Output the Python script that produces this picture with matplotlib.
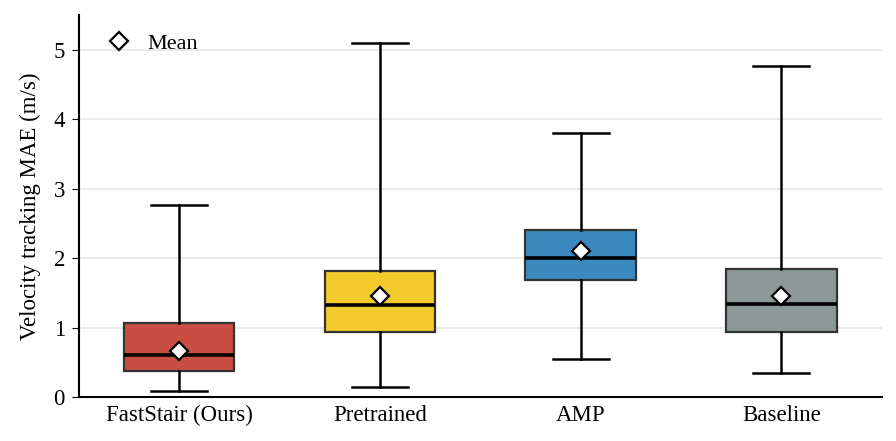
import matplotlib
matplotlib.use('Agg')
import matplotlib.pyplot as plt
from matplotlib.lines import Line2D

plt.rcParams['font.family'] = ['Liberation Serif', 'DejaVu Serif']

methods = ['FastStair (Ours)', 'Pretrained', 'AMP', 'Baseline']
whislo = [0.08, 0.15, 0.55, 0.35]
q1 = [0.37, 0.94, 1.68, 0.94]
med = [0.61, 1.33, 2.00, 1.34]
q3 = [1.07, 1.82, 2.40, 1.84]
whishi = [2.76, 5.10, 3.80, 4.76]
means = [0.66, 1.46, 2.10, 1.46]
colors = ['#C74E41', '#F2CA2B', '#3C89C0', '#8C9998']

stats = []
for i, m in enumerate(methods):
    stats.append(dict(label=m, whislo=whislo[i], q1=q1[i], med=med[i],
                      q3=q3[i], whishi=whishi[i], mean=means[i], fliers=[]))

fig = plt.figure(figsize=(8.96, 4.41), dpi=100)
ax = fig.add_axes([0.088, 0.0998, 0.896, 0.866])

pos = list(range(len(methods)))
bp = ax.bxp(stats, positions=pos, widths=0.55, patch_artist=True,
            showmeans=True, showfliers=False,
            boxprops=dict(edgecolor='#333333', linewidth=1.6),
            medianprops=dict(color='black', linewidth=2.6),
            whiskerprops=dict(color='black', linewidth=1.8),
            capprops=dict(color='black', linewidth=1.8),
            meanprops=dict(marker='D', markerfacecolor='white',
                           markeredgecolor='black', markersize=9.5,
                           markeredgewidth=1.6),
            capwidths=0.28)
for patch, c in zip(bp['boxes'], colors):
    patch.set_facecolor(c)

ax.set_xlim(-0.5, 3.5)
ax.set_ylim(0, 5.5)
ax.set_yticks([0, 1, 2, 3, 4, 5])
ax.set_xticks(pos)
ax.set_xticklabels(methods, fontsize=16.5)
ax.tick_params(axis='y', labelsize=16.5, length=5, pad=5)
ax.tick_params(axis='x', length=0, pad=6)
ax.set_ylabel('Velocity tracking MAE (m/s)', fontsize=16.5, labelpad=9)
ax.yaxis.grid(True, color='#e6e6e6', linewidth=1.2)
ax.set_axisbelow(True)
ax.spines['top'].set_visible(False)
ax.spines['right'].set_visible(False)
ax.spines['left'].set_linewidth(1.5)
ax.spines['bottom'].set_linewidth(1.5)

h = Line2D([], [], linestyle='none', marker='D', markerfacecolor='white',
           markeredgecolor='black', markersize=9.5, markeredgewidth=1.6)
ax.legend([h], ['Mean'], loc='upper left', frameon=False, fontsize=16,
          bbox_to_anchor=(-0.003, 1.005), handletextpad=0.3)

fig.savefig('out.png', dpi=100)
